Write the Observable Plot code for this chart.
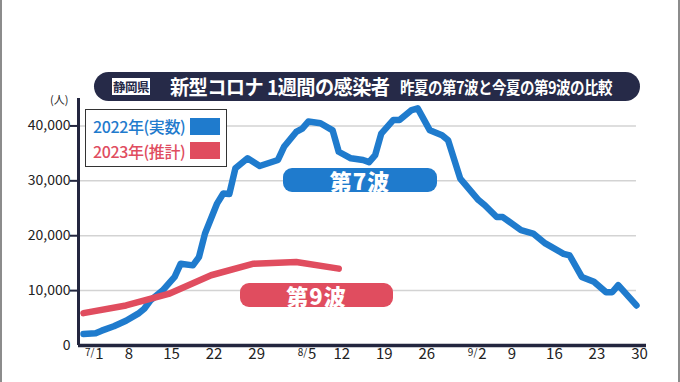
<!DOCTYPE html>
<html>
<head>
<meta charset="utf-8">
<script src="https://cdn.jsdelivr.net/npm/d3@7"></script>
<script src="https://cdn.jsdelivr.net/npm/@observablehq/plot@0.6"></script>
<style>
html, body { margin: 0; padding: 0; background: #fff; }
#wrap { position: relative; width: 680px; height: 382px; overflow: hidden; background: #fff;
  font-family: "Noto Sans CJK JP", "Noto Sans", sans-serif; }
#chart { position: absolute; left: 0; top: 0; }
.edge { position: absolute; top: 0; width: 2px; height: 382px; background: #8c8c8c; }
#banner { position: absolute; left: 94px; top: 72px; width: 546px; height: 29px; background: #262a48; border-radius: 15px; }
#pref { position: absolute; left: 18px; top: 6px; width: 38px; height: 17px; background: #fff; color: #262a48;
  font-size: 12.5px; font-weight: 700; line-height: 17px; text-align: center; letter-spacing: -0.5px; }
#title { position: absolute; left: 76px; top: 0; line-height: 29px; color: #fff; font-size: 20px; font-weight: 700; letter-spacing: -0.6px; white-space: nowrap;
  transform: scaleX(0.96); transform-origin: left center; }
#sub { position: absolute; left: 306px; top: 1px; line-height: 29px; color: #fff; font-size: 16.5px; font-weight: 700; letter-spacing: -0.6px; white-space: nowrap;
  transform: scaleX(0.88); transform-origin: left center; }
#unit { position: absolute; left: 50px; top: 91px; font-size: 11px; color: #222; }
#legend { position: absolute; left: 85px; top: 109px; width: 140px; height: 56px; background: #fff; border: 1.5px solid #333; }
.lt { position: absolute; left: 7px; font-size: 16px; font-weight: 500; white-space: nowrap; letter-spacing: -0.4px; line-height: 20px; }
.ls { position: absolute; left: 104px; width: 30px; height: 17px; }
.pill { position: absolute; color: #fff; font-size: 22px; font-weight: 900; text-align: center; border-radius: 9px; letter-spacing: 1px; }
</style>
</head>
<body>
<div id="wrap">
  <div id="chart"></div>
  <div id="unit">(人)</div>
  <div id="legend">
    <div class="lt" id="lt1" style="top:6px;"></div>
    <div class="ls" id="ls1" style="top:8px;"></div>
    <div class="lt" id="lt2" style="top:31px;"></div>
    <div class="ls" id="ls2" style="top:32px;"></div>
  </div>
  <div id="banner">
    <div id="pref">静岡県</div>
    <div id="title">新型コロナ 1週間の感染者</div>
    <div id="sub">昨夏の第7波と今夏の第9波の比較</div>
  </div>
  <div class="pill" id="p7" style="left:283px; top:168px; width:154px; height:24px; line-height:24px;">第7波</div>
  <div class="pill" id="p9" style="left:240px; top:283px; width:153px; height:24px; line-height:24px;">第9波</div>
  <div class="edge" style="left:0;"></div>
  <div class="edge" style="left:678px;"></div>
</div>
<script>
// ---- data ----
const seriesNames = ["2022年(実数)", "2023年(推計)"];
const waveLabels = ["第7波", "第9波"];

// days after 7/1
const days2022 = [0,2,3,5,7,9,10,11,13,15,16,18,19,20,22,23,24,25,27,29,32,33,35,36,37,39,41,42,44,46,47,48,49,51,52,54,55,57,59,60,62,65,66,68,69,72,74,76,79,80,82,84,86,87,88,91];
const values2022 = [2100,2250,2700,3500,4500,5800,6700,8200,10000,12500,14900,14600,16100,20400,25900,27700,27600,32300,34100,32700,33800,36200,38900,39500,40800,40500,39200,35300,34100,33800,33400,34700,38600,41100,41100,42900,43200,39200,38300,37400,30400,26500,25600,23400,23400,21000,20400,18600,16700,16400,12500,11600,9700,9700,11000,7300];

const days2023 = [0,7,14,21,28,35,42];
const values2023 = [5900,7300,9400,12800,14900,15200,14000];

const yTicks = [0,10000,20000,30000,40000];
const xTickDays = [0,7,14,21,28,35,42,49,56,63,70,77,84,91];
const xTickLabels = ["1","8","15","22","29","5","12","19","26","2","9","16","23","30"];
const xTickPrefix = ["7/","","","","","8/","","","","9/","","","",""];

// ---- style ----
const blue = "#1f7bcd";
const red = "#e04d5f";
const navy = "#23263f";
const xmin = -0.82, xmax = 92.65;

document.getElementById("lt1").textContent = seriesNames[0];
document.getElementById("lt1").style.color = blue;
document.getElementById("ls1").style.background = blue;
document.getElementById("lt2").textContent = seriesNames[1];
document.getElementById("lt2").style.color = red;
document.getElementById("ls2").style.background = red;
document.getElementById("p7").textContent = waveLabels[0];
document.getElementById("p7").style.background = blue;
document.getElementById("p9").textContent = waveLabels[1];
document.getElementById("p9").style.background = red;

const data2022 = days2022.map((d, i) => ({d, v: values2022[i]}));
const data2023 = days2023.map((d, i) => ({d, v: values2023[i]}));
const ticks = xTickDays.map((d, i) => ({d, label: xTickLabels[i], prefix: xTickPrefix[i]}));
const plain = ticks.filter(t => !t.prefix);
const composite = ticks.filter(t => t.prefix);

const chart = Plot.plot({
  width: 680,
  height: 382,
  marginLeft: 78,
  marginRight: 34,
  marginTop: 98,
  marginBottom: 37,
  x: {domain: [xmin, xmax], axis: null},
  y: {domain: [0, 45000], axis: null},
  style: {fontFamily: '"Noto Sans CJK JP", "Noto Sans", sans-serif', background: "transparent", color: "#222"},
  marks: [
    Plot.ruleY(yTicks.filter(v => v > 0), {x1: xmin, x2: 91, stroke: "#d3d3d3", strokeWidth: 1.5}),
    Plot.line(data2022, {x: "d", y: "v", stroke: blue, strokeWidth: 6.5, strokeLinejoin: "round", strokeLinecap: "round"}),
    Plot.line(data2023, {x: "d", y: "v", stroke: red, strokeWidth: 6.5, strokeLinejoin: "round", strokeLinecap: "round"}),
    Plot.ruleY([0], {stroke: navy, strokeWidth: 3.5}),
    Plot.ruleX([xmin], {stroke: navy, strokeWidth: 3}),
    Plot.axisY({ticks: yTicks.filter(v => v > 0), anchor: "left", tickSize: 10, tickPadding: 0, dx: 2,
      tickFormat: d3.format(","), stroke: navy, strokeWidth: 2, fill: "#222", fontSize: 14, label: null}),
    Plot.axisY({ticks: [0], anchor: "left", tickSize: 0, tickPadding: 8,
      tickFormat: d3.format(","), fill: "#222", fontSize: 14, label: null}),
    Plot.text(plain, {x: "d", text: "label", frameAnchor: "bottom", dy: 13, dx: 3, fontSize: 15, fill: "#222"}),
    Plot.text(composite, {x: "d", text: "label", frameAnchor: "bottom", dy: 13, dx: 16, fontSize: 15, fill: "#222"}),
    Plot.text(composite, {x: "d", text: "prefix", frameAnchor: "bottom", dy: 10, dx: 11, textAnchor: "end", fontSize: 10, fill: "#222"})
  ]
});
document.getElementById("chart").appendChild(chart);
</script>
</body>
</html>
